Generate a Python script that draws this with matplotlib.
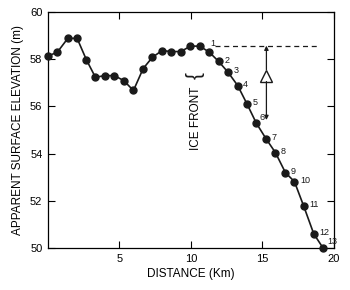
import numpy as np
import matplotlib
matplotlib.use('Agg')
import matplotlib.pyplot as plt

plt.rcParams['font.family'] = ['Liberation Sans', 'DejaVu Sans']

# profile (distance in km, elevation in m)
dist = [0.0, 0.64, 1.39, 2.04, 2.69, 3.32, 3.97, 4.65, 5.3, 5.98,
        6.66, 7.31, 7.98, 8.64, 9.29, 9.97, 10.62, 11.29, 11.94, 12.6,
        13.27, 13.93, 14.58, 15.26, 15.91, 16.61, 17.24, 17.89, 18.59, 19.24]
elev = [58.14, 58.28, 58.88, 58.88, 57.97, 57.23, 57.3, 57.3, 57.09, 56.67,
        57.6, 58.08, 58.36, 58.32, 58.32, 58.55, 58.55, 58.29, 57.9, 57.44,
        56.88, 56.09, 55.28, 54.62, 54.04, 53.19, 52.81, 51.77, 50.6, 50.0]
point_labels = [str(i) for i in range(1, 14)]   # last 13 points
ref_level = 58.57   # dashed reference line
arrow_bottom = 55.42

xticks = [5, 10, 15, 20]
yticks = [50, 52, 54, 56, 58, 60]

fig = plt.figure(figsize=(3.5, 2.9), dpi=100)
ax = fig.add_axes([0.137, 0.145, 0.817, 0.814])

ax.plot(dist, elev, color='#1a1a1a', lw=1.2, marker='o', ms=5,
        mfc='#1a1a1a', mec='#1a1a1a', clip_on=False, zorder=3)

# number the last 13 points
n0 = len(dist) - len(point_labels)
offs = {0: (1, 6), 5: (2, 4), 12: (3, 5)}
for i, lab in enumerate(point_labels):
    dx, dy = offs.get(i, (4, 1))
    ax.annotate(lab, (dist[n0 + i], elev[n0 + i]), xytext=(dx, dy),
                textcoords='offset points', fontsize=6.5, ha='left', va='center',
                color='#1a1a1a')

# dashed reference + delta arrow
ax.plot([11.7, 19.0], [ref_level, ref_level], ls=(0, (4, 3)), color='#1a1a1a', lw=0.9)
ax.annotate('', xy=(15.28, ref_level), xytext=(15.28, 57.55),
            arrowprops=dict(arrowstyle='-|>', color='#1a1a1a', lw=0.9,
                            mutation_scale=6, shrinkA=0, shrinkB=0))
ax.annotate('', xy=(15.28, arrow_bottom), xytext=(15.28, 57.05),
            arrowprops=dict(arrowstyle='-|>', color='#1a1a1a', lw=0.9,
                            mutation_scale=6, shrinkA=0, shrinkB=0))
ax.plot([15.28], [57.3], marker='^', ms=8, mfc='white', mec='#1a1a1a', mew=1.0)

# ice front label
ax.text(10.35, 55.5, 'ICE FRONT', rotation=90, fontsize=8.5, ha='center', va='center')
ax.text(10.3, 57.3, '{', rotation=90, fontsize=15, ha='center', va='center',
        fontweight='light', color='#1a1a1a')

ax.set_xlim(0, 20)
ax.set_ylim(50, 60)
ax.set_xticks(xticks)
ax.set_yticks(yticks)
ax.tick_params(direction='in', length=5, width=0.8, labelsize=8,
               top=True, right=True, pad=4)
for s in ax.spines.values():
    s.set_linewidth(0.9)
ax.set_xlabel('DISTANCE (Km)', fontsize=8.5, labelpad=3)
ax.set_ylabel('APPARENT SURFACE ELEVATION (m)', fontsize=8.5, labelpad=4)

fig.savefig('out.png', dpi=100)
